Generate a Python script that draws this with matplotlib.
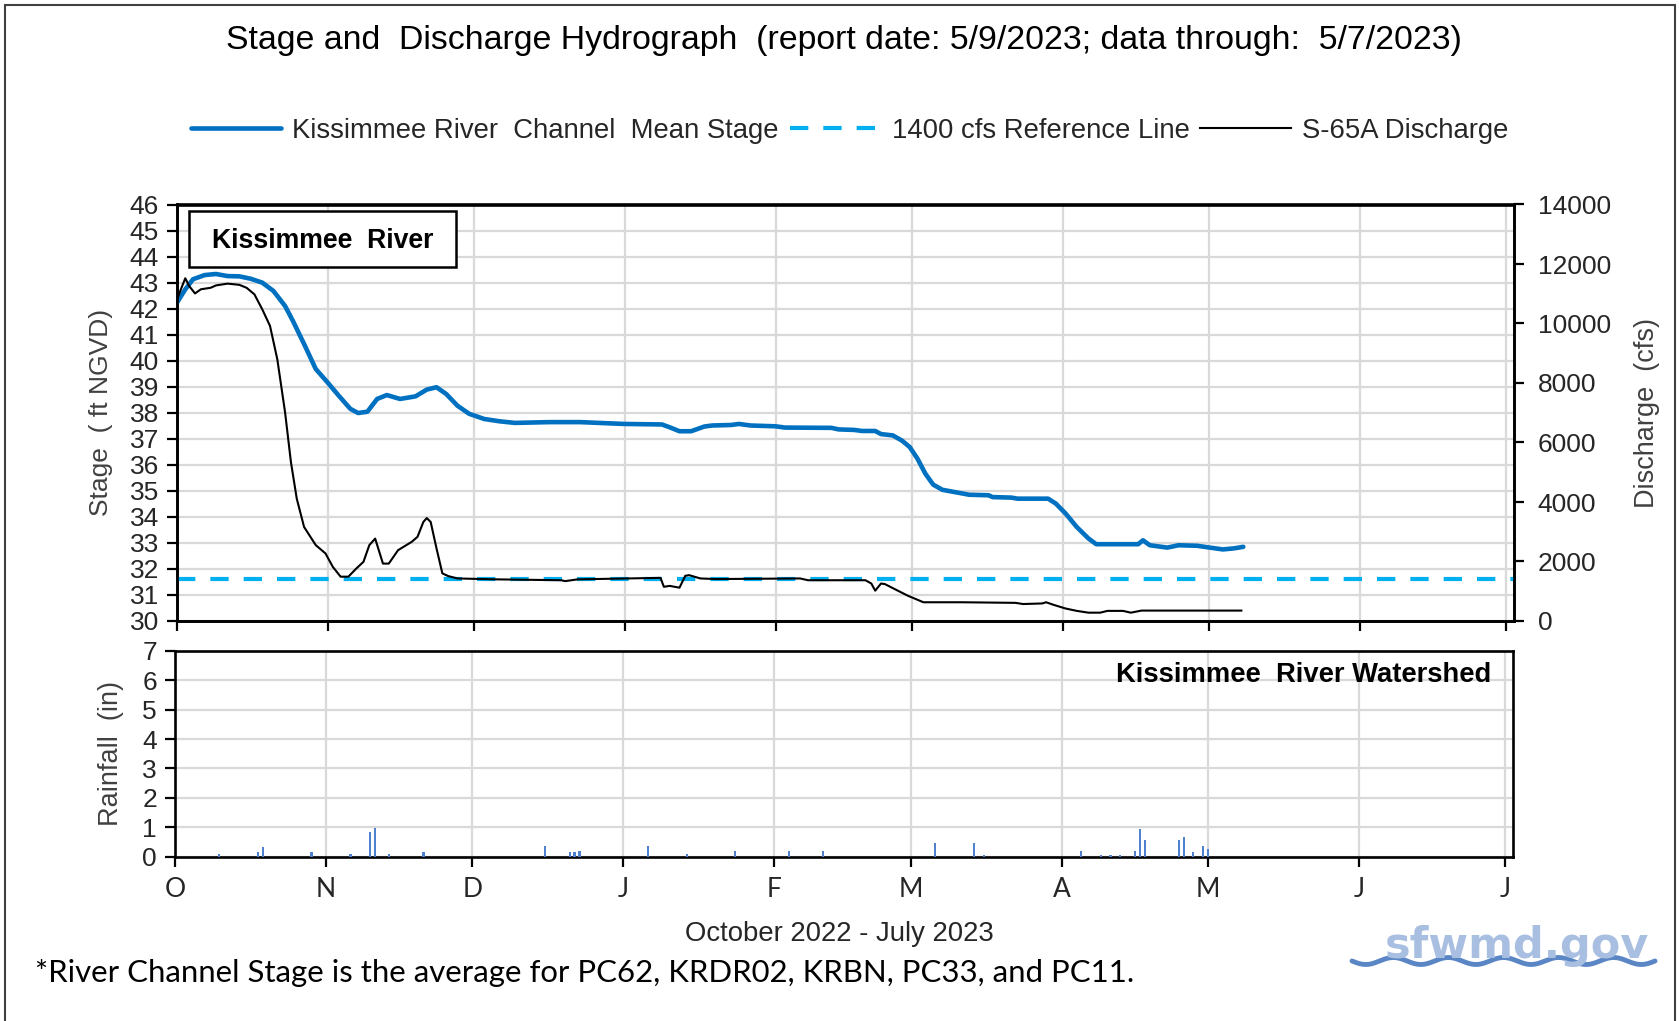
import numpy as np
import matplotlib
matplotlib.use("Agg")
import matplotlib.pyplot as plt
from matplotlib.patches import Rectangle
from matplotlib.lines import Line2D

plt.rcParams['font.family'] = ['Liberation Sans', 'DejaVu Sans']

# x values are days since 1 Oct 2022
stage_day = [0, 1.7, 3.3, 5.7, 8, 10.4, 12.8, 15.1, 17.5, 19.8, 22.2, 23.8, 26.1, 28.5,
             30.9, 33.2, 35.6, 37.2, 39.1, 41.1, 43.1, 45.8, 49, 51.3, 53.3, 55.3, 57.6,
             60, 63.1, 66.3, 69.4, 76.5, 82.8, 91.8, 99.6, 101.2, 103.2, 105.6, 108.3,
             109.9, 113.8, 115.4, 117.8, 122.9, 124.9, 134.4, 135.9, 139.1, 140.7, 143.4,
             144.6, 147, 148.9, 150.5, 152.1, 153.7, 155.3, 157.2, 160.4, 162.7, 166.7,
             167.5, 171.4, 172.6, 178.9, 180.5, 182.5, 184.8, 187.2, 188.8, 197.4, 198.4,
             199.8, 203.4, 205.7, 209.5, 212.5, 214.8, 217.1, 219]
stage = [42.23, 42.74, 43.13, 43.29, 43.33, 43.25, 43.24, 43.15, 43.0, 42.68, 42.1, 41.53,
         40.64, 39.68, 39.17, 38.66, 38.15, 37.99, 38.04, 38.53, 38.68, 38.53, 38.63, 38.89,
         38.98, 38.72, 38.27, 37.96, 37.76, 37.67, 37.61, 37.64, 37.64, 37.57, 37.55, 37.44,
         37.29, 37.29, 37.47, 37.51, 37.53, 37.57, 37.51, 37.48, 37.43, 37.42, 37.36, 37.34,
         37.30, 37.30, 37.18, 37.13, 36.93, 36.68, 36.23, 35.66, 35.24, 35.04, 34.93, 34.85,
         34.83, 34.76, 34.74, 34.70, 34.70, 34.51, 34.13, 33.61, 33.17, 32.95, 32.95, 33.1,
         32.91, 32.82, 32.91, 32.89, 32.81, 32.75, 32.79, 32.85]

flow_day = [0, 0.8, 1.7, 2.5, 3.7, 4.9, 6.9, 8, 10.4, 12.8, 14.3, 15.9, 17.5, 19.1, 20.6,
            22.2, 23.4, 24.6, 26.1, 28.5, 30.5, 32, 33.6, 35.2, 36.8, 38.3, 39.5, 40.7,
            42.3, 43.5, 45.4, 48.2, 49.4, 50.6, 51.3, 52.1, 53.3, 54.5, 55.7, 57.6, 65.5,
            78.9, 79.7, 82.3, 99.3, 100, 101.2, 103.2, 104.4, 105.2, 107.5, 110.7, 128,
            129.6, 141.4, 142.6, 143.4, 144.6, 145.4, 147.8, 150.1, 151.7, 153.3, 161.2,
            172.2, 173.8, 177.7, 178.5, 180.1, 182.5, 184.8, 187.2, 189.6, 191.1, 194.3,
            195.9, 198.1, 218.6]
flow = [10800, 11150, 11520, 11260, 11010, 11150, 11200, 11280, 11340, 11300, 11200, 10980,
        10480, 9920, 8800, 7010, 5340, 4110, 3160, 2550, 2270, 1820, 1490, 1490, 1760, 1990,
        2550, 2770, 1930, 1930, 2380, 2660, 2830, 3330, 3460, 3330, 2440, 1600, 1510, 1430,
        1400, 1370, 1340, 1400, 1450, 1150, 1180, 1120, 1520, 1540, 1430, 1410, 1430, 1370,
        1370, 1260, 1020, 1260, 1240, 1040, 850, 740, 630, 630, 610, 570, 590, 630, 540,
        420, 340, 280, 280, 340, 340, 280, 350, 350]

ref_flow = 1400

rain_day = [9, 17, 18, 28, 36, 40, 41, 44, 51, 76, 81, 82, 83, 97, 105, 115, 126, 133,
            156, 164, 166, 186, 190, 192, 194, 197, 198, 199, 206, 207, 209, 211, 212]
rain = [0.08, 0.14, 0.31, 0.14, 0.08, 0.85, 0.97, 0.08, 0.14, 0.37, 0.14, 0.14, 0.2, 0.37,
        0.08, 0.2, 0.2, 0.2, 0.48, 0.48, 0.06, 0.2, 0.06, 0.06, 0.06, 0.2, 0.95, 0.55,
        0.55, 0.67, 0.14, 0.37, 0.26]

month_labels = ['O', 'N', 'D', 'J', 'F', 'M', 'A', 'M', 'J', 'J']
month_starts = np.array(['2022-10-01', '2022-11-01', '2022-12-01', '2023-01-01', '2023-02-01',
                         '2023-03-01', '2023-04-01', '2023-05-01', '2023-06-01', '2023-07-01'],
                        dtype='datetime64[D]')
month_pos = (month_starts - month_starts[0]).astype(int)

blue = '#0070C0'
light_blue = '#00B0F0'
grid_c = '#D9D9D9'
txt = '#262626'
xmax = 274.6

fig = plt.figure(figsize=(16.79, 10.21), dpi=100)
W, H = 1679, 1021

ax1 = fig.add_axes([177 / W, 1 - 621 / H, (1514 - 177) / W, (621 - 204.5) / H])
ax2 = ax1.twinx()
ax3 = fig.add_axes([175 / W, 1 - 856.6 / H, (1513 - 175) / W, (856.6 - 651) / H])

# --- stage / discharge panel ---
ax1.plot(stage_day, stage, color=blue, lw=3.3, solid_capstyle='round',
         label='Kissimmee River  Channel  Mean Stage', zorder=3)
ax2.axhline(ref_flow, color=light_blue, lw=3.0, dashes=(4.4, 3.6),
            label='1400 cfs Reference Line')
ax2.plot(flow_day, flow, color='black', lw=1.5, label='S-65A Discharge')

ax1.set_xlim(0, xmax)
ax1.set_ylim(30, 46)
ax2.set_ylim(0, 14000)
ax1.set_yticks(range(30, 47))
ax2.set_yticks(range(0, 14001, 2000))
ax1.set_xticks(month_pos)
ax1.set_xticklabels([])
ax1.grid(True, color=grid_c, lw=1.6)
ax1.set_axisbelow(True)

for a in (ax1, ax2):
    for s in a.spines.values():
        s.set_linewidth(1.9)
    a.tick_params(direction='out', length=7, width=1.6, labelsize=19, colors='black',
                  labelcolor=txt)
ax1.tick_params(axis='y', pad=6)
ax2.tick_params(axis='y', pad=10)

ax1.set_ylabel('Stage  ( ft NGVD)', fontsize=19, color='#404040', labelpad=12)
ax2.set_ylabel('Discharge  (cfs)', fontsize=19.5, color='#404040', labelpad=17)

ax1.add_patch(Rectangle((0.0093, 0.851), 0.1994, 0.1334, transform=ax1.transAxes,
                        facecolor='white', edgecolor='black', lw=1.8, zorder=5))
ax1.text(0.109, 0.912, 'Kissimmee  River', transform=ax1.transAxes, ha='center',
         va='center', fontsize=19.2, fontweight='bold', color='black', zorder=6)

# --- rainfall panel ---
ax3.bar(rain_day, rain, width=0.45, color='#4F81CF', zorder=3)
ax3.set_xlim(0, xmax)
ax3.set_ylim(0, 7)
ax3.set_yticks(range(0, 8))
ax3.set_xticks(month_pos)
ax3.set_xticklabels(month_labels, fontfamily='Lato', fontsize=19)
ax3.grid(True, color=grid_c, lw=1.6)
ax3.set_axisbelow(True)
for s in ax3.spines.values():
    s.set_linewidth(1.9)
ax3.tick_params(direction='out', length=7, width=1.6, labelsize=19, colors='black',
                labelcolor=txt)
ax3.tick_params(axis='y', pad=6)
ax3.tick_params(axis='x', pad=8, labelsize=19)
ax3.set_ylabel('Rainfall  (in)', fontsize=19.5, color='#404040', labelpad=13)
ax3.text(0.984, 0.885, 'Kissimmee  River Watershed', transform=ax3.transAxes, ha='right',
         va='center', fontsize=19.7, fontweight='bold', color='black')

# --- figure texts ---
fig.text(0.5026, 1 - 40.7 / H,
         'Stage and  Discharge Hydrograph  (report date: 5/9/2023; data through:  5/7/2023)',
         ha='center', va='center', fontsize=24.4, color='black')
h1, l1 = ax1.get_legend_handles_labels()
h2, l2 = ax2.get_legend_handles_labels()
fig.legend(h1 + h2, l1 + l2, loc='center', bbox_to_anchor=(0.506, 1 - 130.6 / H), ncol=3,
           frameon=False, fontsize=19.8, handlelength=3.3, handletextpad=0.4,
           columnspacing=0.4, labelcolor=txt)
fig.text(0.5, 1 - 934 / H, 'October 2022 - July 2023', ha='center', va='center',
         fontsize=19.8, color=txt)
fig.text(35 / W, 1 - 973 / H,
         '*River Channel Stage is the average for PC62, KRDR02, KRBN, PC33, and PC11.',
         ha='left', va='center', fontsize=22.4, fontfamily='Lato', color='black')

# logo
fig.text(1517 / W, 1 - 946 / H, 'sfwmd.gov', ha='center', va='center', fontsize=31,
         fontweight='heavy', color='#A8BFE2', fontfamily='DejaVu Sans')
wx = np.linspace(1352, 1655, 200)
wy = 961 + 3.5 * np.sin((wx - 1352) / 303 * 2 * np.pi * 5.5)
fig.add_artist(Line2D(wx / W, 1 - wy / H, transform=fig.transFigure, color='#5B86C5',
                      lw=3.5, solid_capstyle='round'))

# outer frame
fig.add_artist(Rectangle((5 / W, -0.02), (1675 - 5) / W, 1.02 - 5 / H, transform=fig.transFigure,
                         fill=False, edgecolor='#404040', lw=1.5))

fig.savefig('out.png', dpi=100, facecolor='white')
